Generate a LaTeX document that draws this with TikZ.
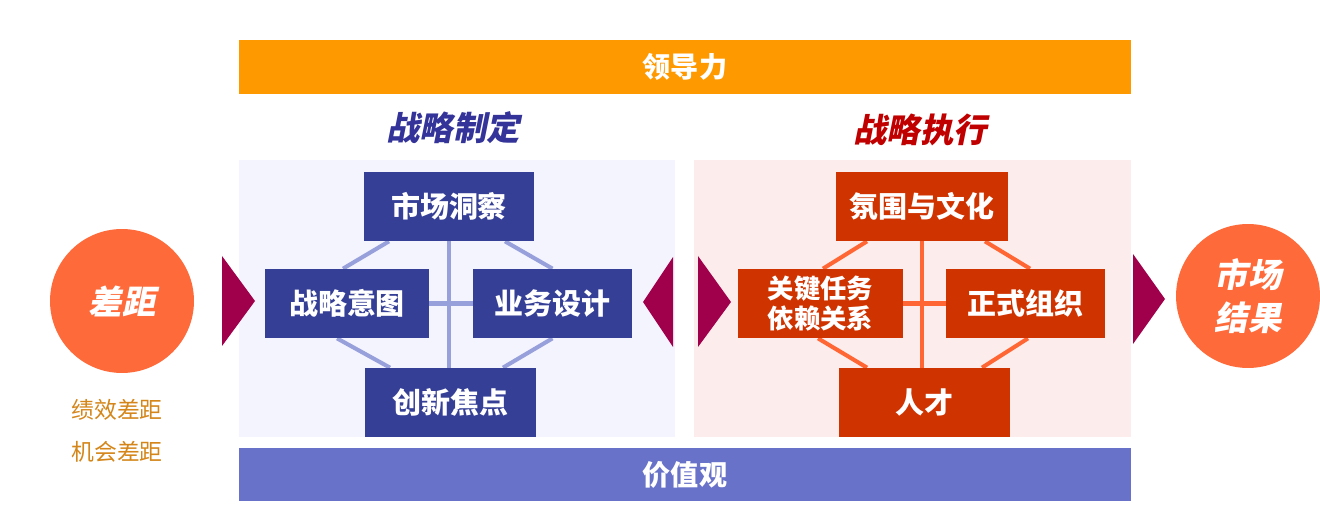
\documentclass[tikz,border=0pt]{standalone}
\usepackage{fontspec}
\setmainfont{Noto Sans CJK SC}
\newfontfamily\slantcjk{Noto Sans CJK SC}[FakeSlant=0.2]
\usetikzlibrary{backgrounds}
\definecolor{leadbar}{HTML}{FF9900}
\definecolor{valuebar}{HTML}{6872C8}
\definecolor{fblue}{HTML}{353F96}
\definecolor{fline}{HTML}{97A0DA}
\definecolor{fpanel}{HTML}{F4F4FE}
\definecolor{ered}{HTML}{CF3300}
\definecolor{eline}{HTML}{FF6633}
\definecolor{epanel}{HTML}{FDECEC}
\definecolor{wedge}{HTML}{A0004B}
\definecolor{gapring}{HTML}{FF6A3A}
\definecolor{gapnote}{HTML}{D4861A}
\definecolor{ftitle}{HTML}{333399}
\definecolor{etitle}{HTML}{C00000}

\begin{document}
\begin{tikzpicture}[x=0.02cm,y=-0.02cm,every node/.style={inner sep=0pt}]
    \tikzstyle{bar}=[rectangle,text=white,minimum width=17.84cm,minimum height=1.07cm,
                     font=\fontsize{16}{19}\selectfont\bfseries];
    \tikzstyle{panel}=[rectangle,minimum height=5.54cm];
    \tikzstyle{lbox}=[rectangle,fill=fblue,text=white,minimum height=1.38cm,
                      font=\fontsize{16.5}{20}\selectfont\bfseries];
    \tikzstyle{rbox}=[rectangle,fill=ered,text=white,minimum height=1.38cm,
                      font=\fontsize{16.5}{20}\selectfont\bfseries];
    \tikzstyle{ring}=[circle,fill=gapring,text=white,minimum size=2.88cm,align=center,
                      font=\fontsize{19}{24.4}\selectfont\slantcjk\bfseries];
    \tikzstyle{head}=[font=\fontsize{19}{22}\selectfont\slantcjk\bfseries];
    \tikzstyle{fl}=[fline,line width=2.3pt];
    \tikzstyle{el}=[eline,line width=2.3pt];
    \useasboundingbox (0,0) rectangle (1320,530);
    % --- bars ---
    \node[bar,fill=leadbar]  (lead)   at (685,67)    {领导力};
    \node[bar,fill=valuebar] (values) at (685,474.5) {价值观};
    \node[head,text=ftitle] (ftit) at (453,128) {战略制定};
    \node[head,text=etitle] (etit) at (920,130) {战略执行};
    % --- panels ---
    \begin{scope}[on background layer]
      \node[panel,fill=fpanel,minimum width=8.72cm] (lpanel) at (457,298.5) {};
      \node[panel,fill=epanel,minimum width=8.74cm] (rpanel) at (912.5,298.5) {};
    \end{scope}
    % --- left: formulation ---
    \node[lbox,minimum width=3.40cm] (insight) at (449,206.5)   {市场洞察};
    \node[lbox,minimum width=3.28cm] (intent)  at (347,303.5)   {战略意图};
    \node[lbox,minimum width=3.18cm] (design)  at (552.5,303.5) {业务设计};
    \node[lbox,minimum width=3.42cm] (innov)   at (450.5,402.5) {创新焦点};
    \begin{scope}[on background layer]
      \draw[fl] (insight.south) -- (insight.south |- innov.north);
      \draw[fl] (intent.east) -- (design.west);
      \draw[fl] ([xshift=-1.2cm]insight.south) -- ([xshift=-0.08cm]intent.north);
      \draw[fl] ([xshift=1.12cm]insight.south) -- (design.north);
      \draw[fl] ([xshift=-0.2cm]intent.south) -- ([xshift=-1.21cm]innov.north);
      \draw[fl] (design.south) -- ([xshift=1.05cm]innov.north);
    \end{scope}
    % --- right: execution ---
    \node[rbox,minimum width=3.44cm] (climate) at (922,206.5)   {氛围与文化};
    \node[rbox,minimum width=3.30cm,align=center,font=\fontsize{15}{17.5}\selectfont\bfseries]
         (tasks) at (820.5,303.5) {关键任务\\依赖关系};
    \node[rbox,minimum width=3.18cm] (formal)  at (1025.5,303.5) {正式组织};
    \node[rbox,minimum width=3.42cm] (talent)  at (924.5,402.5)  {人才};
    \begin{scope}[on background layer]
      \draw[el] (climate.south) -- (climate.south |- talent.north);
      \draw[el] (tasks.east) -- (formal.west);
      \draw[el] ([xshift=-1.1cm]climate.south) -- ([xshift=0.05cm]tasks.north);
      \draw[el] ([xshift=1.26cm]climate.south) -- ([xshift=0.09cm]formal.north);
      \draw[el] ([xshift=-0.05cm]tasks.south) -- ([xshift=-1.15cm]talent.north);
      \draw[el] ([xshift=0.05cm]formal.south) -- ([xshift=1.15cm]talent.north);
    \end{scope}
    % --- gap and result ---
    \node[ring] (gap)    at (122,301)  {差距};
    \node[ring] (result) at (1248,296) {市场\\结果};
    \node[text=gapnote,font=\fontsize{13}{15}\selectfont] (perf) at (117,410) {绩效差距};
    \node[text=gapnote,font=\fontsize{13}{15}\selectfont] (opp)  at (117,452) {机会差距};
    % --- wedges ---
    \fill[wedge] (222,256) -- (255,301) -- (222,346) -- cycle;
    \fill[wedge] (673,257) -- (643,302) -- (673,347) -- cycle;
    \fill[wedge] (698,256) -- (731,302) -- (698,347) -- cycle;
    \fill[wedge] (1133,254) -- (1165,299) -- (1133,344) -- cycle;
\end{tikzpicture}
\end{document}
